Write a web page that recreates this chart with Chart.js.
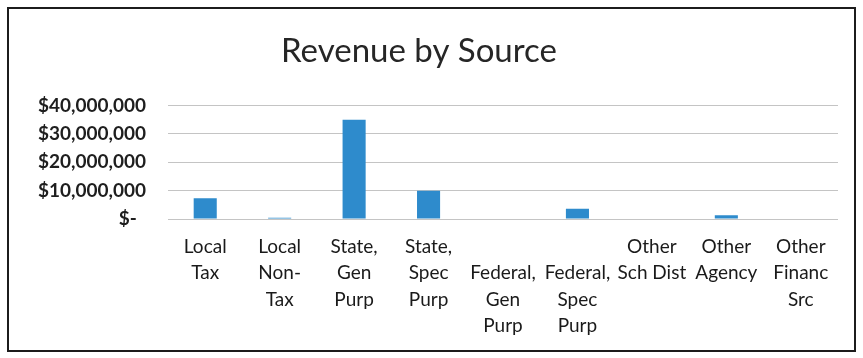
<!DOCTYPE html>
<html><head><meta charset="utf-8">
<script src="https://cdn.jsdelivr.net/npm/chart.js@4"></script>
<style>
html,body{margin:0;padding:0;background:#fff;}
#wrap{position:relative;width:863px;height:358px;}
#frame{position:absolute;left:7px;top:7px;width:845px;height:341px;border:2px solid #1c1c1c;pointer-events:none;}
canvas{position:absolute;left:0;top:0;}
</style></head>
<body>
<div id="wrap"><canvas id="c" width="863" height="358"></canvas><div id="frame"></div></div>
<script>
const categories = [
  ["Local","Tax"],
  ["Local","Non-","Tax"],
  ["State,","Gen","Purp"],
  ["State,","Spec","Purp"],
  ["","Federal,","Gen","Purp"],
  ["","Federal,","Spec","Purp"],
  ["Other","Sch Dist"],
  ["Other","Agency"],
  ["Other","Financ","Src"]
];
const revenue = [7300000, 400000, 35000000, 10000000, 0, 3600000, 0, 1300000, 0];
const yTicks = [0, 10000000, 20000000, 30000000, 40000000];
const yLabels = ["$-  ", "$10,000,000", "$20,000,000", "$30,000,000", "$40,000,000"];

new Chart(document.getElementById('c'), {
  type: 'bar',
  data: {
    labels: categories,
    datasets: [{ data: revenue, backgroundColor: '#2e8bcc', borderWidth: 0,
      barPercentage: 0.31, categoryPercentage: 1 }]
  },
  options: {
    responsive: false, animation: false,
    layout: { padding: { left: 0, right: 25, top: 0, bottom: 4 } },
    plugins: {
      legend: { display: false },
      tooltip: { enabled: false },
      title: { display: true, text: 'Revenue by Source', color: '#262626',
        font: { family: 'Lato', size: 33, weight: 'normal' },
        padding: { top: 32, bottom: 34 } }
    },
    scales: {
      y: {
        min: 0, max: 40000000,
        afterBuildTicks: s => { s.ticks = yTicks.map(v => ({ value: v })); },
        afterFit: s => { s.width = 168; },
        grid: { color: '#c4c4c4', drawTicks: false, lineWidth: 1 },
        border: { display: false },
        ticks: { padding: 22, color: '#1e1e1e',
          font: { family: 'Lato', size: 19, weight: 'bold' },
          callback: (v) => yLabels[yTicks.indexOf(v)] }
      },
      x: {
        afterFit: s => { s.height = 135; },
        grid: { display: false, drawTicks: false },
        border: { display: false },
        ticks: { padding: 15, color: '#1a1a1a', maxRotation: 0, autoSkip: false,
          font: { family: 'Lato', size: 19, lineHeight: 1.38 } }
      }
    }
  }
});
</script>
</body></html>
